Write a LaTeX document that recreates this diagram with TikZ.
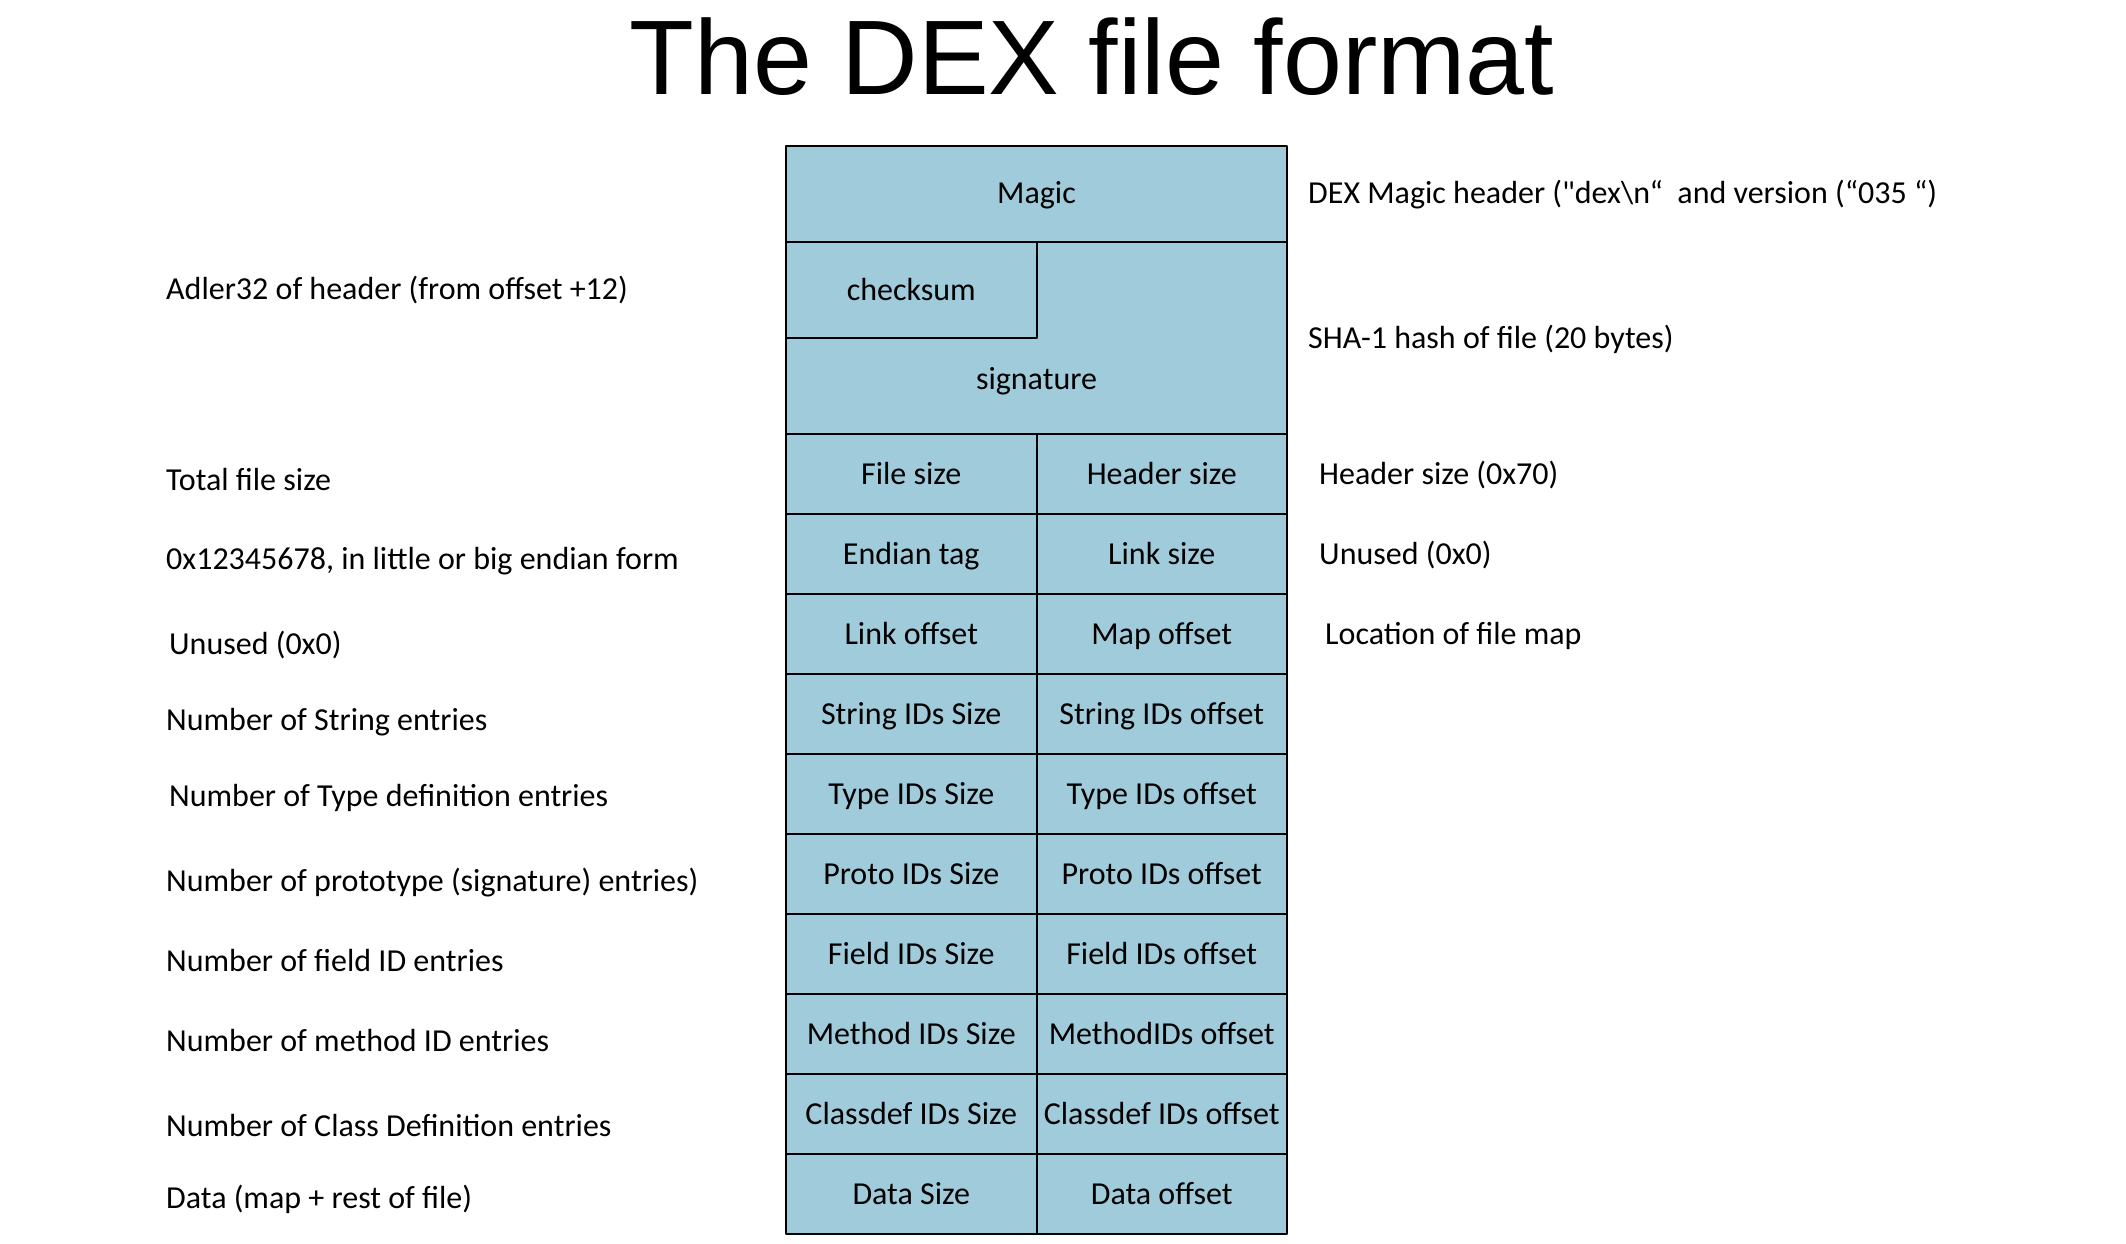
\documentclass[tikz,border=0pt]{standalone}
\usepackage{fontspec}
\setmainfont{Carlito}
\newfontfamily\titlefont{Liberation Sans}
\definecolor{cellblue}{RGB}{160,203,219}
\tikzset{
  cell/.style={draw, fill=cellblue, line width=2pt, minimum width=250.5pt, minimum height=80pt,
    inner sep=0pt, text height=20pt, text depth=0pt},
  note/.style={anchor=west, inner sep=0pt, text height=20pt, text depth=0pt}
}
\begin{document}
\begin{tikzpicture}[x=1pt,y=-1pt,line join=round,font=\fontsize{32}{38}\selectfont]
  \useasboundingbox (0,0) rectangle (2126,1244);
  \node[anchor=base, inner sep=0pt, font=\titlefont\fontsize{106}{120}\selectfont] (title) at (1092,95) {The DEX file format};

  \node[cell, minimum width=501pt, minimum height=96pt] (magic) at (1036.5,194) {Magic};
  \draw[fill=cellblue, line width=2pt] (786,242) rectangle (1287,434);
  \node[inner sep=0pt, text height=20pt, text depth=0pt] (signature) at (1036.5,379) {signature};
  \node[cell, minimum height=96pt] (checksum) at (911.25,290) {checksum};

  \foreach \a/\b [count=\i from 0] in {File size/Header size, Endian tag/Link size, Link offset/Map offset,
      String IDs Size/String IDs offset, Type IDs Size/Type IDs offset, Proto IDs Size/Proto IDs offset,
      Field IDs Size/Field IDs offset, Method IDs Size/MethodIDs offset,
      Classdef IDs Size/Classdef IDs offset, Data Size/Data offset} {
      \node[cell] (size\i) at (911.25,{474+80*\i}) {\a};
      \node[cell] (offset\i) at (1161.75,{474+80*\i}) {\b};
    }

  \foreach \x/\y/\t [count=\i] in {166/289/Adler32 of header (from offset +12), 166/480/Total file size,
      166/559/{0x12345678, in little or big endian form}, 169/644/Unused (0x0),
      166/720/Number of String entries, 169/796/Number of Type definition entries,
      166/881/Number of prototype (signature) entries), 166/961/Number of field ID entries,
      166/1041/Number of method ID entries, 166/1126/Number of Class Definition entries,
      166/1198/Data (map + rest of file)} {
      \node[note] (left\i) at (\x,\y) {\t};
    }

  \node[note] (magicnote) at (1308,194) {DEX Magic header (\textquotedbl dex\textbackslash n“ \ and version (“035 “)};
  \node[note] (shanote) at (1308,338) {SHA-1 hash of file (20 bytes)};
  \node[note] (headernote) at (1319,474) {Header size (0x70)};
  \node[note] (linknote) at (1319,554) {Unused (0x0)};
  \node[note] (mapnote) at (1325,634) {Location of file map};
\end{tikzpicture}
\end{document}
